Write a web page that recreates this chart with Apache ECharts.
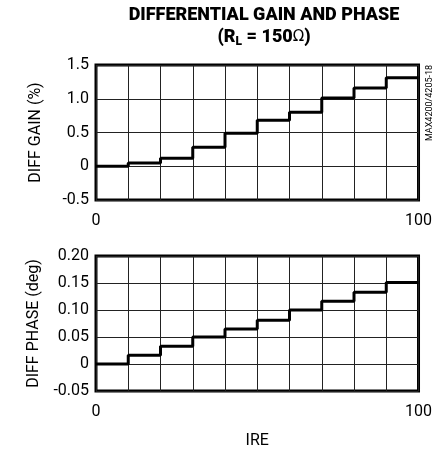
<!DOCTYPE html>
<html>
<head>
<meta charset="utf-8">
<script src="https://cdn.jsdelivr.net/npm/echarts@6/dist/echarts.min.js"></script>
<style>
  html, body { margin: 0; padding: 0; background: #fff; }
  #chart { width: 435px; height: 457px; }
</style>
</head>
<body>
<div id="chart"></div>
<script>
// IRE step edges (each step holds from its edge to the next)
var ire = [0, 10, 20, 30, 40, 50, 60, 70, 80, 90, 100];
// diff gain (%) for each 10 IRE step
var gainSteps = [0.0, 0.05, 0.12, 0.28, 0.49, 0.68, 0.80, 1.01, 1.16, 1.31];
// diff phase (deg) for each 10 IRE step
var phaseSteps = [0.0, 0.016, 0.033, 0.05, 0.065, 0.081, 0.10, 0.116, 0.133, 0.151];

var xTickLabels = ['0', '100'];
var gainTicks = ['-0.5', '0', '0.5', '1.0', '1.5'];
var phaseTicks = ['-0.05', '0', '0.05', '0.10', '0.15', '0.20'];

var FONT = "Roboto, 'Liberation Sans', sans-serif";

// build step points, last value repeated at 100
function stepData(vals) {
  var out = [];
  for (var i = 0; i < ire.length; i++) {
    out.push([ire[i], vals[Math.min(i, vals.length - 1)]]);
  }
  return out;
}

function xLabel(v) {
  var s = String(Math.round(v));
  return xTickLabels.indexOf(s) >= 0 ? s : '';
}
function tickLabel(list, digits) {
  return function (v) {
    var s = Math.abs(v) < 1e-9 ? '0' : v.toFixed(digits);
    return list.indexOf(s) >= 0 ? s : '';
  };
}

var chart = echarts.init(document.getElementById('chart'), null, { renderer: 'canvas' });

var gridStyle = { show: true, borderColor: '#000', borderWidth: 3, backgroundColor: 'transparent' };
var splitStyle = { show: true, lineStyle: { color: '#222', width: 1 } };

chart.setOption({
  animation: false,
  backgroundColor: '#fff',
  title: {
    text: 'DIFFERENTIAL GAIN AND PHASE\n{p|(R}{sub|L}{p| = 150}{om|Ω}{p|)}',
    left: 259,
    top: -1,
    textAlign: 'center',
    textStyle: {
      fontFamily: FONT,
      fontSize: 18,
      fontWeight: 900,
      color: '#000',
      lineHeight: 22,
      rich: {
        p: { fontFamily: FONT, fontSize: 18, fontWeight: 900, color: '#000', lineHeight: 22 },
        sub: { fontFamily: FONT, fontSize: 12, fontWeight: 900, color: '#000', verticalAlign: 'bottom', lineHeight: 22, padding: [6, 0, 0, 0] },
        om: { fontFamily: 'DejaVu Sans', fontSize: 15, fontWeight: 'normal', color: '#000', lineHeight: 22 }
      }
    }
  },
  graphic: [{
    type: 'text',
    x: 430,
    y: 103,
    rotation: Math.PI / 2,
    style: {
      text: 'MAX4200/4205-18',
      fontFamily: FONT,
      fontSize: 9,
      fill: '#000',
      align: 'center',
      verticalAlign: 'middle'
    }
  }],
  grid: [
    Object.assign({ left: 96, top: 65, width: 325, height: 135 }, gridStyle),
    Object.assign({ left: 96, top: 256, width: 325, height: 135 }, gridStyle)
  ],
  xAxis: [0, 1].map(function (g) {
    return {
      type: 'value',
      gridIndex: g,
      min: 0,
      max: 100,
      interval: 10,
      axisLine: { show: false },
      axisTick: { show: false },
      splitLine: splitStyle,
      axisLabel: {
        formatter: xLabel,
        fontFamily: FONT,
        fontSize: 16,
        color: '#000',
        margin: 13
      },
      name: g === 1 ? 'IRE' : '',
      nameLocation: 'middle',
      nameGap: 42,
      nameTextStyle: { fontFamily: FONT, fontSize: 16, color: '#000' }
    };
  }),
  yAxis: [
    {
      type: 'value',
      gridIndex: 0,
      min: -0.5,
      max: 1.5,
      interval: 0.5,
      axisLine: { show: false },
      axisTick: { show: false },
      splitLine: splitStyle,
      axisLabel: { formatter: tickLabel(gainTicks, 1), fontFamily: FONT, fontSize: 16, color: '#000', margin: 7 },
      name: 'DIFF GAIN (%)',
      nameLocation: 'middle',
      nameRotate: 90,
      nameGap: 52,
      nameTextStyle: { fontFamily: FONT, fontSize: 16, color: '#000' }
    },
    {
      type: 'value',
      gridIndex: 1,
      min: -0.05,
      max: 0.2,
      interval: 0.05,
      axisLine: { show: false },
      axisTick: { show: false },
      splitLine: splitStyle,
      axisLabel: { formatter: tickLabel(phaseTicks, 2), fontFamily: FONT, fontSize: 16, color: '#000', margin: 7 },
      name: 'DIFF PHASE (deg)',
      nameLocation: 'middle',
      nameRotate: 90,
      nameGap: 52,
      nameTextStyle: { fontFamily: FONT, fontSize: 16, color: '#000' }
    }
  ],
  series: [
    {
      type: 'line',
      xAxisIndex: 0,
      yAxisIndex: 0,
      step: 'end',
      data: stepData(gainSteps),
      showSymbol: false,
      lineStyle: { color: '#000', width: 3 },
      z: 5
    },
    {
      type: 'line',
      xAxisIndex: 1,
      yAxisIndex: 1,
      step: 'end',
      data: stepData(phaseSteps),
      showSymbol: false,
      lineStyle: { color: '#000', width: 3 },
      z: 5
    }
  ]
});
</script>
</body>
</html>
